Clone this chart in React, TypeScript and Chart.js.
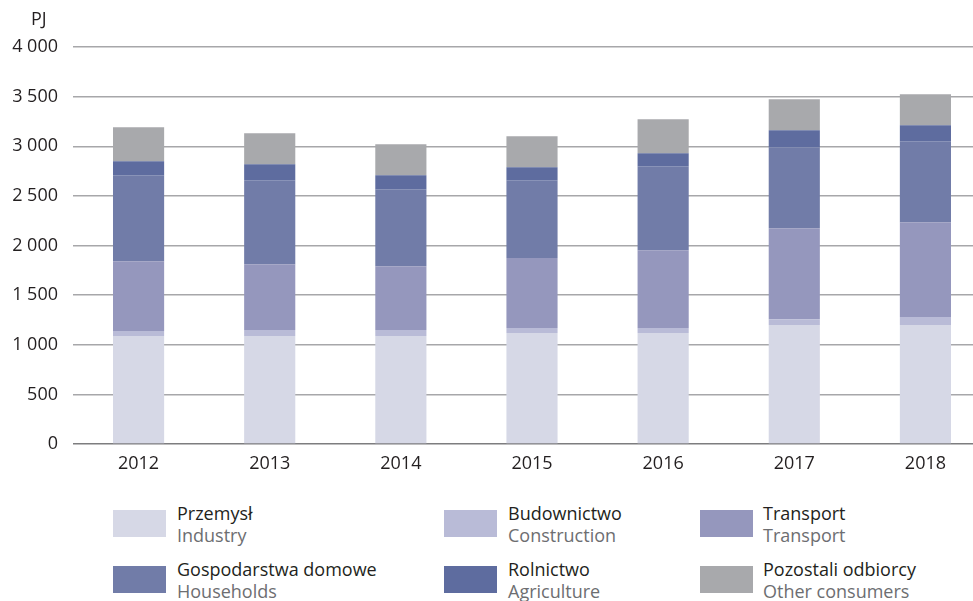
import React, { useEffect, useRef } from "react";
import { Chart, registerables } from "chart.js";

Chart.register(...registerables);

const years = ["2012", "2013", "2014", "2015", "2016", "2017", "2018"];
const industry = [1087, 1087, 1087, 1118, 1118, 1198, 1198];
const construction = [51, 61, 61, 50, 50, 60, 81];
const transport = [704, 664, 644, 705, 785, 917, 956];
const households = [866, 846, 775, 785, 846, 815, 815];
const agriculture = [141, 161, 141, 131, 131, 171, 162];
const other = [342, 312, 312, 312, 342, 312, 312];

const yTickLabels = ["0", "500", "1 000", "1 500", "2 000", "2 500", "3 000", "3 500", "4 000"];

const seriesNamesPl = ["Przemysł", "Budownictwo", "Transport", "Gospodarstwa domowe", "Rolnictwo", "Pozostali odbiorcy"];
const seriesNamesEn = ["Industry", "Construction", "Transport", "Households", "Agriculture", "Other consumers"];
const seriesColors = ["#d6d8e6", "#b9bbd7", "#9597bd", "#717ca8", "#5e6c9f", "#a8a9ac"];

const FONT = "'Open Sans', sans-serif";

export default function App() {
  const canvasRef = useRef<HTMLCanvasElement | null>(null);

  useEffect(() => {
    document.body.style.margin = "0";
    const canvas = canvasRef.current;
    if (!canvas) return;
    const values = [industry, construction, transport, households, agriculture, other];
    const chart = new Chart(canvas, {
      type: "bar",
      data: {
        labels: years,
        datasets: values.map((d, i) => ({
          label: seriesNamesPl[i],
          data: d,
          backgroundColor: seriesColors[i],
          borderWidth: 0,
          categoryPercentage: 1,
          barPercentage: 0.39,
        })),
      },
      options: {
        responsive: false,
        animation: false,
        devicePixelRatio: 1,
        layout: { padding: { top: 47, left: 0, right: 0, bottom: 0 } },
        plugins: { legend: { display: false }, tooltip: { enabled: false } },
        scales: {
          x: {
            stacked: true,
            grid: { display: false, drawTicks: false },
            border: { display: false },
            ticks: {
              color: "#231f20",
              font: { family: FONT, size: 18 },
              padding: 9,
            },
            afterFit: (s: any) => {
              s.height = 36;
            },
          },
          y: {
            stacked: true,
            min: 0,
            max: 4000,
            border: { display: false },
            grid: {
              drawTicks: false,
              lineWidth: 1.5,
              color: (c: any) => (c.tick && c.tick.value === 0 ? "#7d7d7f" : "#a7a7aa"),
            },
            ticks: {
              stepSize: 500,
              color: "#231f20",
              font: { family: FONT, size: 18 },
              padding: 15,
              callback: (_v: any, i: number) => yTickLabels[i],
            },
            afterFit: (s: any) => {
              s.width = 73;
            },
          },
        },
      },
    });
    return () => chart.destroy();
  }, []);

  const cols = [113, 444, 700];
  const rows = [510, 566];
  const textOffset = [64, 64, 63];

  return (
    <div style={{ position: "relative", width: 973, height: 601, overflow: "hidden", fontFamily: FONT }}>
      <canvas ref={canvasRef} width={991} height={480} style={{ position: "absolute", left: 0, top: 0, width: 991, height: 480 }} />
      <div style={{ position: "absolute", left: 31, top: 7, fontSize: 18, color: "#231f20", lineHeight: "22px" }}>PJ</div>
      {seriesNamesPl.map((name, i) => {
        const col = i % 3;
        const row = Math.floor(i / 3);
        const x = cols[col];
        const y = rows[row];
        return (
          <div key={name}>
            <div style={{ position: "absolute", left: x, top: y, width: 53, height: 27, background: seriesColors[i] }} />
            <div style={{ position: "absolute", left: x + textOffset[col], top: y - 8, fontSize: 18, lineHeight: "22px", whiteSpace: "nowrap" }}>
              <div style={{ color: "#231f20" }}>{name}</div>
              <div style={{ color: "#6d6e71" }}>{seriesNamesEn[i]}</div>
            </div>
          </div>
        );
      })}
    </div>
  );
}
